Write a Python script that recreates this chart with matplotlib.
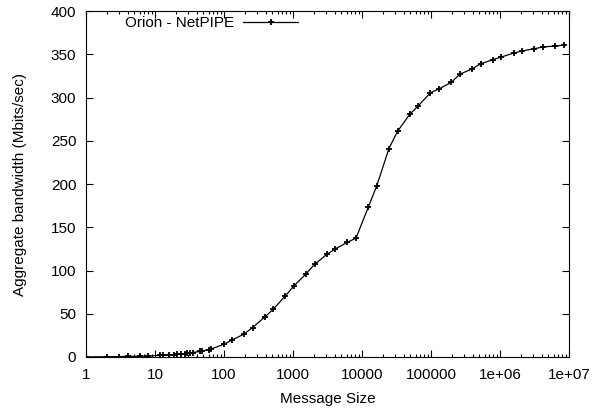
import matplotlib
matplotlib.use("Agg")
import matplotlib.pyplot as plt
from matplotlib.ticker import LogLocator, FixedLocator, NullFormatter

plt.rcParams['font.family'] = ['Liberation Sans', 'DejaVu Sans']

# NetPIPE message sizes (bytes) and measured bandwidth (Mbits/sec)
msg_size = [1, 2, 3, 4, 6, 8, 12, 13, 16, 19, 21, 24, 27, 29, 32, 35, 45, 48, 61, 64,
            99, 131, 195, 259, 387, 515, 771, 1027, 1539, 2051, 3075, 4099, 6147, 8195,
            12291, 16387, 24579, 32771, 49155, 65539, 98307, 131075, 196611, 262147,
            393219, 524291, 786435, 1048579, 1572867, 2097155, 3145731, 4194307,
            6291459, 8388611]
bandwidth = [0.15, 0.3, 0.45, 0.6, 0.9, 1.2, 1.8, 1.9, 2.4, 2.8, 3.1, 3.5, 4.0, 4.3, 4.7, 5.1, 6.5, 7.0, 8.6, 9.0,
             14.7, 19.6, 26.5, 34, 46, 55, 70.5, 82, 96, 107, 118.5, 125, 132.6, 137.5,
             173, 198, 241, 261, 280.5, 290.5, 305.5, 310, 317.5, 327,
             333, 339, 343.7, 346.8, 351.4, 353.8, 356.4, 358.4,
             359.5, 360.5]

x_ticks = [1, 10, 100, 1000, 10000, 100000, 1e6, 1e7]
x_tick_labels = ['1', '10', '100', '1000', '10000', '100000', '1e+06', '1e+07']
y_ticks = [0, 50, 100, 150, 200, 250, 300, 350, 400]

fig = plt.figure(figsize=(5.94, 4.12), dpi=100)
ax = fig.add_axes([86/594, 55/412, 483/594, 346/412])

ax.plot(msg_size, bandwidth, color='black', linewidth=0.9, marker='+',
        markersize=5, markeredgewidth=1.3, label='Orion - NetPIPE')

ax.set_xscale('log')
ax.set_xlim(1, 1e7)
ax.set_ylim(0, 400)
ax.xaxis.set_major_locator(FixedLocator(x_ticks))
ax.set_xticklabels(x_tick_labels)
ax.xaxis.set_minor_locator(LogLocator(base=10, subs=range(2, 10), numticks=20))
ax.xaxis.set_minor_formatter(NullFormatter())
ax.set_yticks(y_ticks)

ax.tick_params(which='both', direction='in', top=True, right=True, labelsize=11)
ax.tick_params(axis='x', pad=8)
ax.tick_params(axis='y', pad=7)
ax.tick_params(which='major', length=5, width=0.8)
ax.tick_params(which='minor', length=2.5, width=0.8)
for s in ax.spines.values():
    s.set_linewidth(0.8)

ax.set_xlabel('Message Size', fontsize=11)
ax.set_ylabel('Aggregate bandwidth (Mbits/sec)', fontsize=11)
ax.xaxis.set_label_coords(0.5, -0.101)
ax.yaxis.set_label_coords(-0.122, 0.5)

ax.legend(loc='upper left', bbox_to_anchor=(0.081, 0.985), frameon=False,
          markerfirst=False, handlelength=3.6, handletextpad=0.6,
          borderpad=0, borderaxespad=0, fontsize=11)

fig.savefig('out.png', dpi=100)
